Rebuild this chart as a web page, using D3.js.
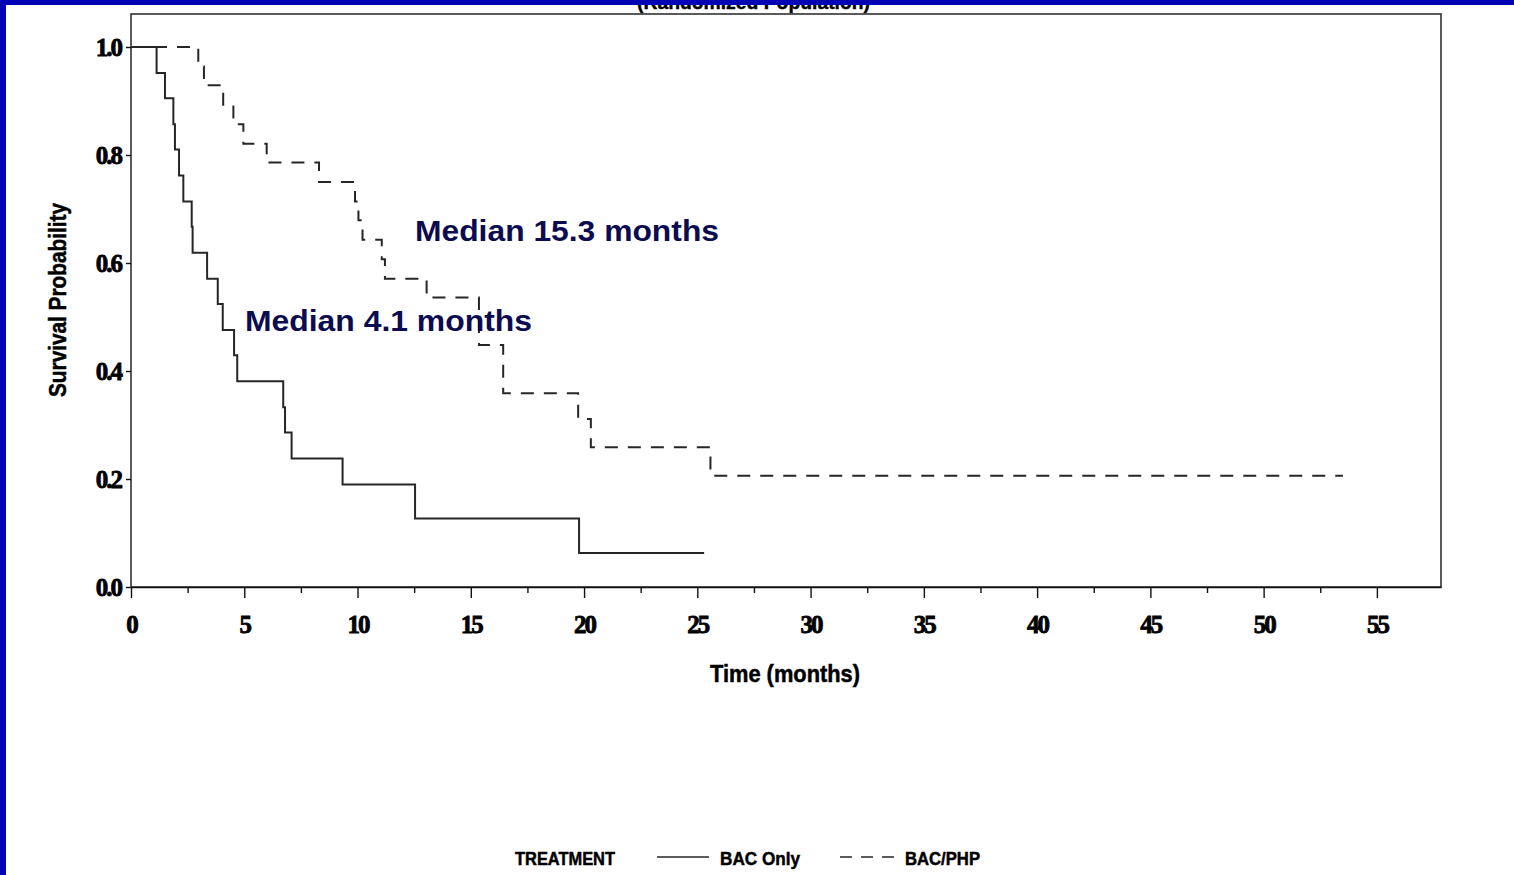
<!DOCTYPE html>
<html>
<head>
<meta charset="utf-8">
<script src="https://cdn.jsdelivr.net/npm/d3@7"></script>
<style>
  body { margin: 0; background: #fff; }
  svg { display: block; }
</style>
</head>
<body>
<script>
// Kaplan-Meier steps (time in months, survival after the drop)
var bacOnlyTimes = [0, 1.13, 1.50, 1.87, 1.94, 2.12, 2.31, 2.68, 2.72, 3.36, 3.83, 4.05, 4.55, 4.69, 6.72, 6.80, 7.09, 9.34, 12.54, 19.78, 25.30];
var bacOnlySurv  = [1, 0.952, 0.905, 0.857, 0.810, 0.762, 0.714, 0.667, 0.619, 0.571, 0.524, 0.476, 0.429, 0.381, 0.333, 0.286, 0.238, 0.190, 0.127, 0.063, 0.063];

var bacPhpTimes = [0, 2.97, 3.22, 4.07, 4.52, 4.96, 5.99, 8.30, 9.89, 10.04, 10.22, 11.07, 11.21, 13.05, 15.36, 16.43, 19.74, 20.30, 25.58, 53.50];
var bacPhpSurv  = [1, 0.964, 0.929, 0.893, 0.857, 0.821, 0.786, 0.750, 0.714, 0.679, 0.643, 0.607, 0.571, 0.536, 0.448, 0.359, 0.311, 0.259, 0.206, 0.206];

var xTicks = [0, 5, 10, 15, 20, 25, 30, 35, 40, 45, 50, 55];
var xMinorTicks = [2.5, 7.5, 12.5, 17.5, 22.5, 27.5, 32.5, 37.5, 42.5, 47.5, 52.5];
var yTicks = [0, 0.2, 0.4, 0.6, 0.8, 1.0];

var medianLabels = ["Median 15.3 months", "Median 4.1 months"];
var legendTitle = "TREATMENT";
var seriesNames = ["BAC Only", "BAC/PHP"];

var W = 1514, H = 875;

var svg = d3.select("body")
    .append("svg")
    .attr("width", W)
    .attr("height", H);

svg.append("rect").attr("width", W).attr("height", H).attr("fill", "#fff");

//half-hidden title under the blue band (it is cut off in the original slide too)
svg.append("text")
    .attr("x", 637).attr("y", 9)
    .attr("textLength", 233).attr("lengthAdjust", "spacingAndGlyphs")
    .style("font-family", "'Liberation Sans', Arial, sans-serif")
    .style("font-weight", "bold").style("font-size", "20px")
    .attr("stroke", "#000").attr("stroke-width", 0.4)
    .text("(Randomized Population)");

var x = d3.scaleLinear().domain([0, 57.83]).range([131, 1441]);
var y = d3.scaleLinear().domain([0, 1]).range([587, 47]);

//plot frame
svg.append("rect")
    .attr("x", x(0)).attr("y", y(1) - 33)
    .attr("width", x(57.83) - x(0)).attr("height", y(0) - y(1) + 33)
    .attr("fill", "none").attr("stroke", "#333").attr("stroke-width", 1.6);

var serif = "'Liberation Serif', 'Times New Roman', serif";
var sans = "'Liberation Sans', Arial, sans-serif";

// minor x ticks
svg.append("g")
    .attr("transform", "translate(0," + y(0) + ")")
    .call(d3.axisBottom(x).tickValues(xMinorTicks).tickSize(6).tickFormat(""))
    .call(function(g){ g.select(".domain").remove(); })
    .selectAll("line").attr("stroke", "#111").attr("stroke-width", 1.4);

var xAxis = svg.append("g")
    .attr("transform", "translate(0," + y(0) + ")")
    .call(d3.axisBottom(x).tickValues(xTicks).tickSize(11).tickPadding(17).tickSizeOuter(0));
xAxis.select(".domain").attr("stroke", "#111").attr("stroke-width", 1.6);
xAxis.selectAll("line").attr("stroke", "#111").attr("stroke-width", 1.4);
xAxis.selectAll("text")
    .style("font-family", serif).style("font-weight", "bold")
    .style("font-size", "25px").style("letter-spacing", "-2px")
    .attr("fill", "#000").attr("stroke", "#000").attr("stroke-width", 0.8);

var yAxis = svg.append("g")
    .attr("transform", "translate(" + x(0) + ",0)")
    .call(d3.axisLeft(y).tickValues(yTicks).tickFormat(d3.format(".1f")).tickSize(5).tickPadding(5).tickSizeOuter(0));
yAxis.select(".domain").remove();
yAxis.selectAll("line").attr("stroke", "#111").attr("stroke-width", 1.4);
yAxis.selectAll("text")
    .style("font-family", serif).style("font-weight", "bold")
    .style("font-size", "25px").style("letter-spacing", "-2px")
    .attr("fill", "#000").attr("stroke", "#000").attr("stroke-width", 0.8);

//axis titles
svg.append("text")
    .attr("transform", "translate(66,300) rotate(-90)")
    .attr("text-anchor", "middle")
    .attr("textLength", 194).attr("lengthAdjust", "spacingAndGlyphs")
    .style("font-family", sans).style("font-weight", "bold").style("font-size", "24px")
    .attr("stroke", "#000").attr("stroke-width", 0.5)
    .text("Survival Probability");

svg.append("text")
    .attr("x", 785).attr("y", 682)
    .attr("text-anchor", "middle")
    .attr("textLength", 150).attr("lengthAdjust", "spacingAndGlyphs")
    .style("font-family", sans).style("font-weight", "bold").style("font-size", "24px")
    .attr("stroke", "#000").attr("stroke-width", 0.5)
    .text("Time  (months)");

// survival curves
var line = d3.line()
    .x(function(d){ return x(d.t); })
    .y(function(d){ return y(d.s); })
    .curve(d3.curveStepAfter);

var bacOnly = bacOnlyTimes.map(function(t, i){ return {t: t, s: bacOnlySurv[i]}; });
var bacPhp = bacPhpTimes.map(function(t, i){ return {t: t, s: bacPhpSurv[i]}; });

svg.append("path")
    .datum(bacOnly)
    .attr("d", line)
    .attr("fill", "none").attr("stroke", "#262626").attr("stroke-width", 2);

svg.append("path")
    .datum(bacPhp)
    .attr("d", line)
    .attr("fill", "none").attr("stroke", "#262626").attr("stroke-width", 2)
    .attr("stroke-dasharray", "13,10");

// median notes
svg.append("text")
    .attr("x", 415).attr("y", 241)
    .attr("textLength", 304).attr("lengthAdjust", "spacingAndGlyphs")
    .style("font-family", sans).style("font-weight", "bold").style("font-size", "30px")
    .attr("fill", "#0b0b4f")
    .text(medianLabels[0]);

svg.append("text")
    .attr("x", 245).attr("y", 331)
    .attr("textLength", 287).attr("lengthAdjust", "spacingAndGlyphs")
    .style("font-family", sans).style("font-weight", "bold").style("font-size", "30px")
    .attr("fill", "#0b0b4f")
    .text(medianLabels[1]);

//legend
var legY = 858;
svg.append("text")
    .attr("x", 515).attr("y", legY + 7)
    .attr("textLength", 100).attr("lengthAdjust", "spacingAndGlyphs")
    .style("font-family", sans).style("font-weight", "bold").style("font-size", "19px")
    .attr("stroke", "#000").attr("stroke-width", 0.5)
    .text(legendTitle);

svg.append("line").attr("x1", 657).attr("x2", 709).attr("y1", legY - 1).attr("y2", legY - 1)
    .attr("stroke", "#262626").attr("stroke-width", 1.6);
svg.append("text")
    .attr("x", 720).attr("y", legY + 7)
    .attr("textLength", 80).attr("lengthAdjust", "spacingAndGlyphs")
    .style("font-family", sans).style("font-weight", "bold").style("font-size", "19px")
    .attr("stroke", "#000").attr("stroke-width", 0.5)
    .text(seriesNames[0]);

svg.append("line").attr("x1", 840).attr("x2", 895).attr("y1", legY - 1).attr("y2", legY - 1)
    .attr("stroke", "#262626").attr("stroke-width", 1.6).attr("stroke-dasharray", "12,9");
svg.append("text")
    .attr("x", 905).attr("y", legY + 7)
    .attr("textLength", 75).attr("lengthAdjust", "spacingAndGlyphs")
    .style("font-family", sans).style("font-weight", "bold").style("font-size", "19px")
    .attr("stroke", "#000").attr("stroke-width", 0.5)
    .text(seriesNames[1]);

//blue slide border
svg.append("rect").attr("x", 0).attr("y", 0).attr("width", W).attr("height", 5).attr("fill", "#0000b4");
svg.append("rect").attr("x", 0).attr("y", 0).attr("width", 6).attr("height", H).attr("fill", "#0000b4");
</script>
</body>
</html>
